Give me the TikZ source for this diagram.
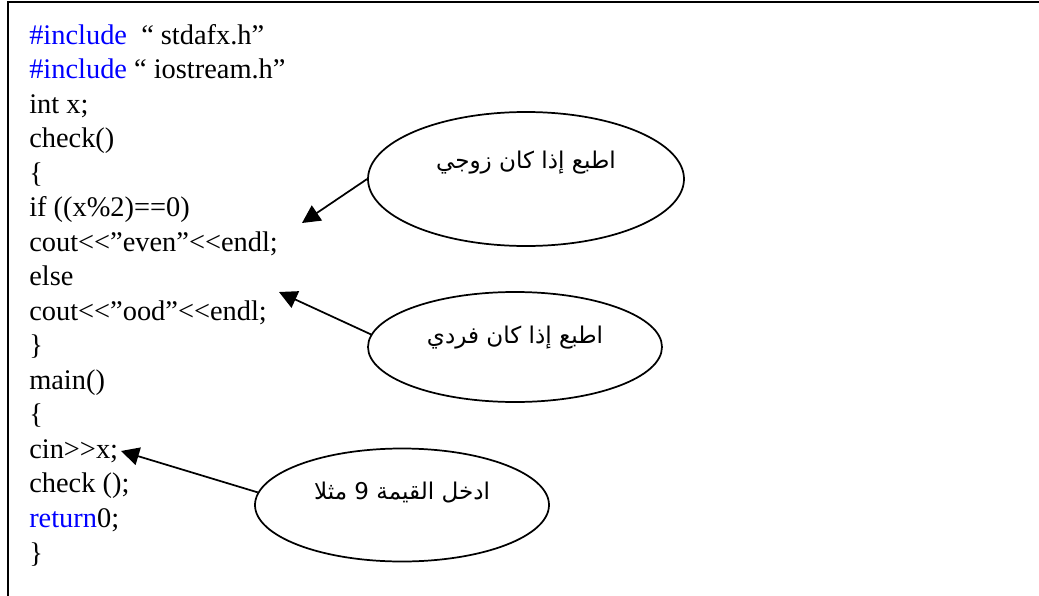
\documentclass[tikz,border=0pt]{standalone}
\usepackage{fontspec}
\newfontfamily\codefont{Liberation Serif}
\newfontfamily\arabicfont[Script=Arabic]{DejaVu Sans}
\TeXXeTstate=1
\usetikzlibrary{positioning, arrows.meta, shapes.geometric}
\definecolor{kwblue}{RGB}{0,0,255}
\newcommand{\kw}[1]{\textcolor{kwblue}{#1}}

\begin{document}
\begin{tikzpicture}[x=0.75pt,y=-0.75pt,node distance=25.9pt,on grid,
    code/.style={anchor=base west,inner sep=0pt,font=\codefont\fontsize{21.3}{25}\selectfont},
    note/.style={draw,ellipse,line width=1.3pt,inner sep=0pt,font=\arabicfont\fontsize{17.3}{20}\selectfont},
    pointer/.style={-{Triangle[length=13.5pt,width=13.5pt]},line width=1.3pt}]
             \useasboundingbox (0,0) rectangle (1039,596);
             \draw[line width=1.8pt] (8,596) -- (8,2) -- (1039,2);
             % code listing
             \node[code] (l1) at (29,44) {\kw{\#include}\ \ “ stdafx.h”};
             \node[code, below=of l1.base west, anchor=base west] (l2) {\kw{\#include} “ iostream.h”};
             \node[code, below=of l2.base west, anchor=base west] (l3) {int x;};
             \node[code, below=of l3.base west, anchor=base west] (l4) {check()};
             \node[code, below=of l4.base west, anchor=base west] (l5) {\{};
             \node[code, below=of l5.base west, anchor=base west] (l6) {if ((x\%2)==0)};
             \node[code, below=of l6.base west, anchor=base west] (l7) {cout<<”even”<<endl;};
             \node[code, below=of l7.base west, anchor=base west] (l8) {else};
             \node[code, below=of l8.base west, anchor=base west] (l9) {cout<<”ood”<<endl;};
             \node[code, below=of l9.base west, anchor=base west] (l10) {\}};
             \node[code, below=of l10.base west, anchor=base west] (l11) {main()};
             \node[code, below=of l11.base west, anchor=base west] (l12) {\{};
             \node[code, below=of l12.base west, anchor=base west] (l13) {cin>>x;};
             \node[code, below=of l13.base west, anchor=base west] (l14) {check ();};
             \node[code, below=of l14.base west, anchor=base west] (l15) {\kw{return}0;};
             \node[code, below=of l15.base west, anchor=base west] (l16) {\}};
             % notes
             \node[note, minimum width=237pt, minimum height=100.5pt] (even) at (526,179)
                  {\raisebox{8pt}[0pt][0pt]{\beginR اطبع إذا كان زوجي\endR}};
             \node[note, minimum width=220.5pt, minimum height=82.5pt] (odd) at (515,347)
                  {\raisebox{3pt}[0pt][0pt]{\beginR اطبع إذا كان فردي\endR}};
             \node[note, minimum width=220.5pt, minimum height=84.75pt] (input) at (402,505)
                  {\raisebox{4pt}[0pt][0pt]{\beginR ادخل القيمة 9 مثلا\endR}};
             \coordinate (t_even) at (302,223);
             \coordinate (t_odd) at (279,292);
             \coordinate (t_input) at (121,451);
             \path[pointer]
             (even.west) edge (t_even)
             (odd.175) edge (t_odd)
             (input.175) edge (t_input);
\end{tikzpicture}
\end{document}
